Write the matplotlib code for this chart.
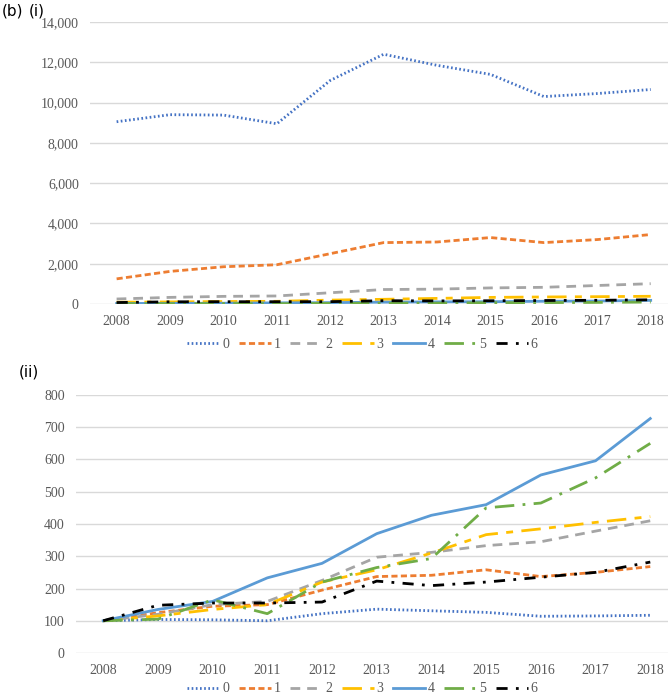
import matplotlib.pyplot as plt

years = list(range(2008, 2019))
labels = ['0', '1', '2', '3', '4', '5', '6']

# panel (i): absolute values
abs_0 = [9050, 9400, 9380, 8950, 11100, 12400, 11850, 11400, 10300, 10450, 10650]
abs_1 = [1250, 1620, 1850, 1950, 2500, 3050, 3080, 3300, 3050, 3200, 3450]
abs_2 = [250, 330, 380, 400, 560, 720, 740, 800, 830, 920, 1010]
abs_3 = [90, 105, 125, 135, 195, 235, 280, 330, 350, 365, 385]
abs_4 = [25, 34, 40, 58, 70, 93, 107, 115, 138, 149, 182]
abs_5 = [15, 16, 25, 18, 33, 40, 44, 68, 70, 81, 98]
abs_6 = [75, 110, 115, 115, 118, 165, 155, 163, 175, 185, 210]

# panel (ii): index, 2008 = 100
idx_0 = [100, 104, 103, 100, 122, 136, 131, 126, 114, 115, 117]
idx_1 = [100, 125, 145, 150, 195, 237, 241, 258, 237, 250, 268]
idx_2 = [100, 120, 150, 160, 225, 297, 312, 333, 345, 378, 410]
idx_3 = [100, 115, 135, 150, 220, 258, 310, 367, 385, 405, 423]
idx_4 = [100, 135, 160, 233, 278, 370, 427, 460, 552, 596, 727]
idx_5 = [100, 105, 165, 122, 220, 265, 293, 450, 465, 543, 650]
idx_6 = [100, 148, 155, 155, 158, 223, 209, 220, 235, 250, 282]

colors = ['#4472C4', '#ED7D31', '#A5A5A5', '#FFC000', '#5B9BD5', '#70AD47', '#000000']
styles = [(0, (0.6, 0.9)), (0, (2.2, 1.2)), (0, (3.5, 2.5)), (0, (7, 3, 2.5, 3)),
          '-', (0, (7, 3, 1, 3)), (0, (4, 3, 1, 3))]

plt.rcParams['font.family'] = 'Liberation Serif'

fig = plt.figure(figsize=(6.71, 6.97), dpi=100)
ax1 = fig.add_axes([0.134, 0.5638, 0.862, 0.4046])
ax2 = fig.add_axes([0.113, 0.0631, 0.883, 0.3702])


def draw(ax, series, ymax, step, fmt):
    for s, c, ls, lab in zip(series, colors, styles, labels):
        ax.plot(years, s, color=c, linestyle=ls, lw=2, label=lab)
    ax.set_ylim(0, ymax)
    ax.set_yticks(range(0, ymax + 1, step))
    ax.set_yticklabels([fmt.format(v) for v in range(0, ymax + 1, step)])
    ax.set_xticks(years)
    ax.grid(axis='y', color='#D9D9D9', lw=1)
    ax.set_axisbelow(True)
    for sp in ax.spines.values():
        sp.set_visible(False)
    ax.tick_params(length=0, labelsize=10, colors='#595959', pad=8)


draw(ax1, [abs_0, abs_1, abs_2, abs_3, abs_4, abs_5, abs_6], 14000, 2000, '{:,}')
ax1.set_xlim(2007.5, 2018.33)
draw(ax2, [idx_0, idx_1, idx_2, idx_3, idx_4, idx_5, idx_6], 800, 100, '{}')
ax2.set_xlim(2007.5, 2018.33)

for ax, y in [(ax1, 0.506), (ax2, 0.0115)]:
    h, l = ax.get_legend_handles_labels()
    fig.legend(h, l, loc='center', bbox_to_anchor=(0.54, y), ncol=7, frameon=False,
               handlelength=2.3, handletextpad=0.2, columnspacing=0.7,
               borderpad=0, prop={'size': 10}, labelcolor='#595959')

fig.text(0.003, 0.984, '(b)', family='DejaVu Sans', fontsize=11, va='center')
fig.text(0.043, 0.984, '(i)', family='DejaVu Sans', fontsize=11, va='center')
fig.text(0.028, 0.466, '(ii)', family='DejaVu Sans', fontsize=11, va='center')

fig.savefig('out.png', dpi=100)
